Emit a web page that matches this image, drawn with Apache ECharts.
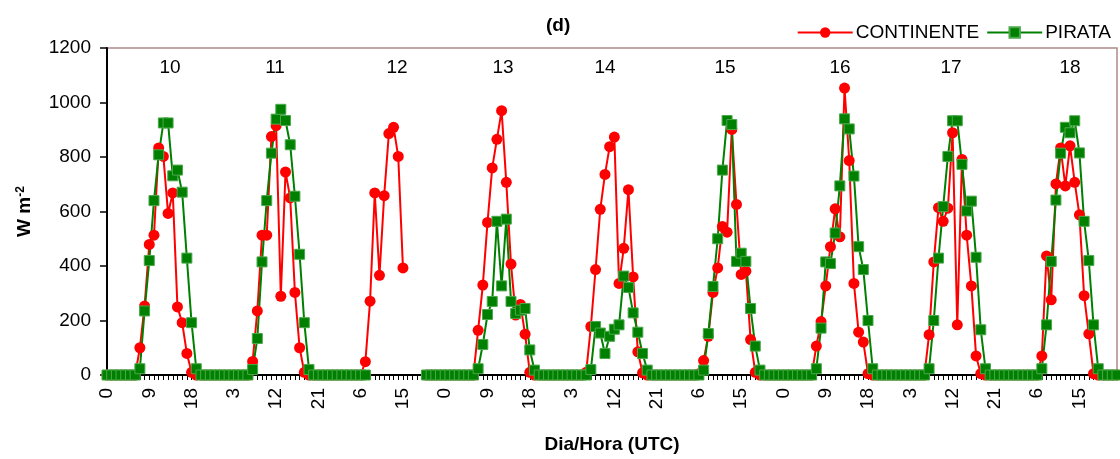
<!DOCTYPE html>
<html>
<head>
<meta charset="utf-8">
<script src="https://cdn.jsdelivr.net/npm/echarts@6/dist/echarts.min.js"></script>
<style>
  html, body { margin: 0; padding: 0; background: #fff; }
  #chart { width: 1120px; height: 459px; }
</style>
</head>
<body>
<div id="chart"></div>
<script>
const days = [10, 11, 12, 13, 14, 15, 16, 17, 18];
const hoursOfDay = [0, 1, 2, 3, 4, 5, 6, 7, 8, 9, 10, 11, 12, 13, 14, 15, 16, 17, 18, 19, 20, 21, 22, 23];

// hourly values, one row per day (W m-2)
const continente = [
  0, 0, 0, 0, 0, 0, 0, 100, 253, 479, 513, 833, 802, 593, 668, 250, 192, 79, 10, 0, 0, 0, 0, 0,
  0, 0, 0, 0, 0, 0, 0, 50, 235, 513, 513, 875, 915, 289, 745, 650, 303, 100, 10, 0, 0, 0, 0, 0,
  0, 0, 0, 0, 0, 0, 0, 49, 271, 668, 366, 658, 886, 909, 802, 393, null, null, null, null, 0, 0, 0, 0,
  0, 0, 0, 0, 0, 0, 0, 164, 330, 560, 760, 865, 970, 707, 407, 220, 259, 150, 10, 0, 0, 0, 0, 0,
  0, 0, 0, 0, 0, 0, 10, 178, 387, 608, 736, 838, 873, 336, 465, 680, 360, 85, 8, 0, 0, 0, 0, 0,
  0, 0, 0, 0, 0, 0, 5, 53, 142, 303, 393, 545, 524, 901, 626, 369, 381, 130, 10, 0, 0, 0, 0, 0,
  0, 0, 0, 0, 0, 0, 0, 106, 196, 327, 471, 610, 507, 1053, 787, 336, 157, 121, 5, 0, 0, 0, 0, 0,
  0, 0, 0, 0, 0, 0, 0, 148, 415, 614, 564, 612, 889, 184, 791, 513, 327, 70, 5, 0, 0, 0, 0, 0,
  0, 0, 0, 0, 0, 0, 0, 70, 437, 276, 701, 833, 694, 841, 707, 588, 291, 151, 5, 0, 0, 0, 0, 0
];

const pirata = [
  0, 0, 0, 0, 0, 0, 0, 23, 235, 420, 640, 808, 925, 925, 731, 752, 671, 429, 192, 23, 0, 0, 0, 0,
  0, 0, 0, 0, 0, 0, 0, 20, 134, 415, 640, 814, 939, 975, 934, 845, 656, 443, 192, 20, 0, 0, 0, 0,
  0, 0, 0, 0, 0, 0, 0, 0, null, null, null, null, null, null, null, null, null, null, null, null, 0, 0, 0, 0,
  0, 0, 0, 0, 0, 0, 0, 23, 112, 222, 270, 564, 327, 572, 270, 226, 238, 244, 92, 18, 0, 0, 0, 0,
  0, 0, 0, 0, 0, 0, 0, 20, 178, 154, 79, 142, 168, 184, 363, 321, 228, 157, 79, 18, 0, 0, 0, 0,
  0, 0, 0, 0, 0, 0, 0, 18, 152, 325, 500, 752, 934, 919, 417, 447, 417, 244, 106, 18, 0, 0, 0, 0,
  0, 0, 0, 0, 0, 0, 0, 23, 172, 415, 409, 521, 694, 940, 903, 730, 471, 387, 200, 23, 0, 0, 0, 0,
  0, 0, 0, 0, 0, 0, 0, 23, 200, 429, 618, 802, 933, 933, 773, 602, 638, 432, 166, 23, 0, 0, 0, 0,
  0, 0, 0, 0, 0, 0, 0, 23, 184, 417, 642, 814, 909, 889, 933, 815, 564, 420, 184, 23, 0, 0, 0, 0
];

// day labels written inside the plot, and where they sit (px)
const dayLabels = days.map(String);
const dayLabelX = [170, 275, 397, 503, 605, 725, 840, 951, 1070];

const categories = days.flatMap((d) => hoursOfDay.map((h) => d + "/" + h));

const FONT = "'Liberation Sans', Arial, sans-serif";

const chart = echarts.init(document.getElementById("chart"));

const options = {
  animation: false,
  textStyle: { fontFamily: FONT, color: "#000" },
  title: {
    text: "(d)",
    left: 541,
    top: 11,
    textStyle: { fontFamily: FONT, fontSize: 19, fontWeight: "bold", color: "#000" },
  },
  legend: {
    right: 4,
    top: 18,
    itemWidth: 55,
    itemHeight: 13,
    itemGap: 7,
    textStyle: { fontFamily: FONT, fontSize: 19, color: "#000", padding: [0, 0, 0, -2] },
    data: ["CONTINENTE", "PIRATA"],
  },
  grid: {
    left: 107,
    right: 3,
    top: 48,
    bottom: 76,
    show: true,
    borderColor: "#b08a8a",
    borderWidth: 1.5,
  },
  xAxis: {
    type: "category",
    data: categories,
    boundaryGap: false,
    name: "Dia/Hora (UTC)",
    nameLocation: "middle",
    nameGap: 60,
    nameTextStyle: { fontFamily: FONT, fontSize: 19, fontWeight: "bold", color: "#000" },
    axisLine: { show: true, lineStyle: { color: "#000", width: 2 } },
    axisTick: { show: true, interval: 0, length: 5, lineStyle: { color: "#000", width: 1 } },
    axisLabel: {
      interval: 8,
      rotate: 90,
      margin: 13,
      fontSize: 19,
      color: "#000",
      formatter: (v) => v.split("/")[1],
    },
    splitLine: { show: false },
  },
  yAxis: {
    type: "value",
    min: 0,
    max: 1200,
    interval: 200,
    name: "W m{sup|-2}",
    nameLocation: "middle",
    nameGap: 72,
    nameTextStyle: {
      fontFamily: FONT,
      fontSize: 19,
      fontWeight: "bold",
      color: "#000",
      rich: {
        sup: { fontFamily: FONT, fontSize: 12, fontWeight: "bold", color: "#000", verticalAlign: "top", lineHeight: 20 },
      },
    },
    axisLine: { show: true, lineStyle: { color: "#000", width: 2 } },
    axisTick: { show: true, length: 7, lineStyle: { color: "#000", width: 1.5 } },
    axisLabel: { fontSize: 19, color: "#000", margin: 16, formatter: (v) => String(v) },
    splitLine: { show: false },
  },
  graphic: dayLabels.map((t, i) => ({
    type: "text",
    x: dayLabelX[i],
    y: 68,
    style: {
      text: t,
      font: "19px " + FONT,
      fill: "#000",
      textAlign: "center",
      textVerticalAlign: "middle",
    },
  })),
  series: [
    {
      name: "CONTINENTE",
      type: "line",
      data: continente,
      symbol: "circle",
      symbolSize: 11,
      showAllSymbol: true,
      color: "#ff0000",
      lineStyle: { width: 2, color: "#ff0000" },
      itemStyle: { color: "#ff0000" },
      emphasis: { disabled: true },
    },
    {
      name: "PIRATA",
      type: "line",
      data: pirata,
      symbol: "rect",
      symbolSize: 10,
      showAllSymbol: true,
      color: "#008000",
      lineStyle: { width: 2, color: "#008000" },
      itemStyle: { color: "#008000", borderColor: "#4aa84a", borderWidth: 1 },
      emphasis: { disabled: true },
    },
  ],
};

chart.setOption(options);

window.addEventListener("resize", () => {
  chart.resize();
});
</script>
</body>
</html>
